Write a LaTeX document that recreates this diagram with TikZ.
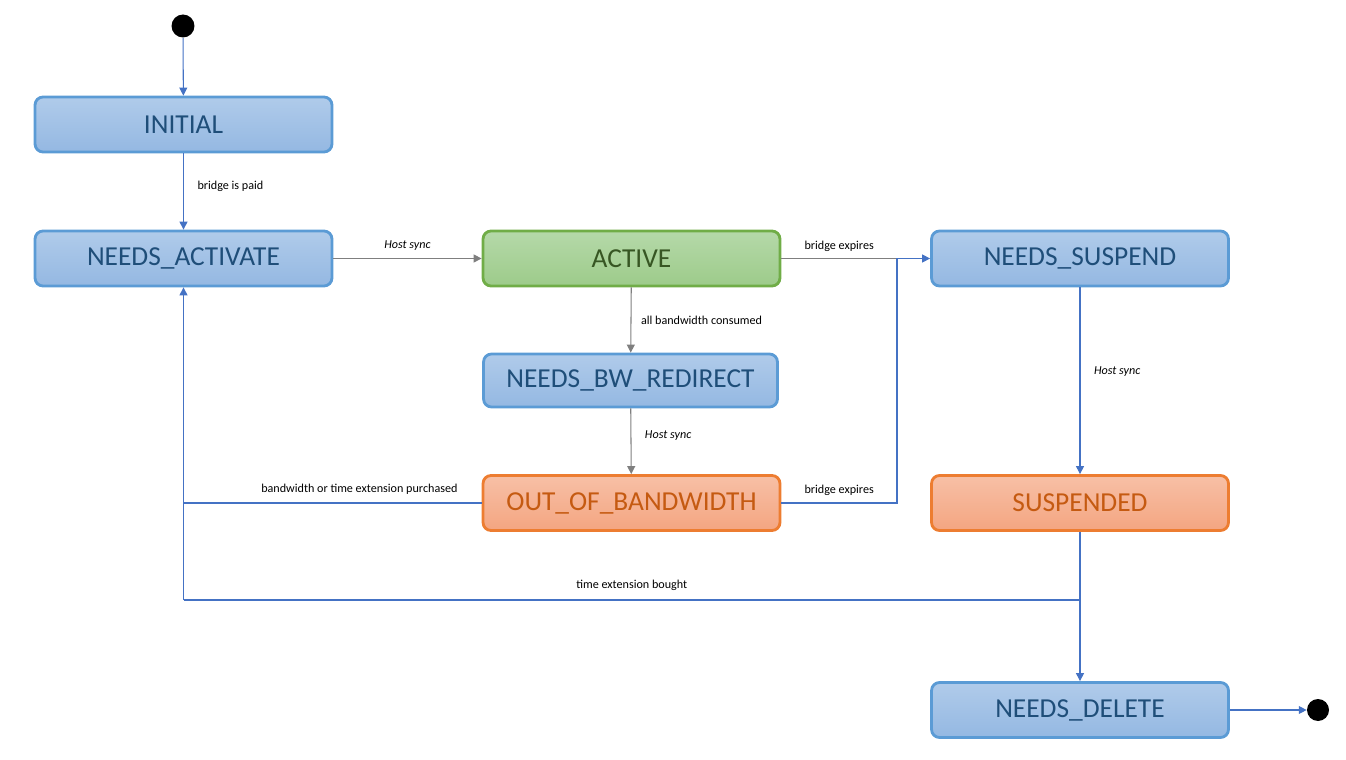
\documentclass[tikz,border=0pt]{standalone}
\usepackage{fontspec}
\setmainfont{Carlito}
\usetikzlibrary{arrows.meta}

\definecolor{blueedge}{HTML}{5B9BD5}
\definecolor{bluetop}{HTML}{B0CBEA}
\definecolor{bluebot}{HTML}{94B8E2}
\definecolor{bluetext}{HTML}{1F4E79}
\definecolor{greenedge}{HTML}{70AD47}
\definecolor{greentop}{HTML}{B5D9A9}
\definecolor{greenbot}{HTML}{9DCB8A}
\definecolor{greentext}{HTML}{375623}
\definecolor{orangeedge}{HTML}{ED7D31}
\definecolor{orangetop}{HTML}{F7C0A6}
\definecolor{orangebot}{HTML}{F4A581}
\definecolor{orangetext}{HTML}{C55A11}
\definecolor{blueline}{HTML}{4472C4}
\definecolor{grayline}{HTML}{7F7F7F}

\tikzset{
  statebox/.style={draw, rounded corners=0.16cm, line width=1.6pt,
    minimum width=5.94cm, minimum height=1.1cm,
    font=\fontsize{15.6}{19}\selectfont},
  bluestate/.style={statebox, draw=blueedge, top color=bluetop, bottom color=bluebot, text=bluetext},
  greenstate/.style={statebox, draw=greenedge, top color=greentop, bottom color=greenbot, text=greentext},
  orangestate/.style={statebox, draw=orangeedge, top color=orangetop, bottom color=orangebot, text=orangetext},
  dot/.style={circle, fill=black, inner sep=0pt, minimum size=0.46cm},
  blueflow/.style={draw=blueline, line width=0.6pt, -{Triangle[length=4.5pt,width=4.5pt]}},
  grayflow/.style={draw=grayline, line width=0.6pt, -{Triangle[length=4.5pt,width=4.5pt]}},
  edgelabel/.style={font=\fontsize{6.9}{8}\selectfont, text=black, inner sep=2pt},
}

\begin{document}
\begin{tikzpicture}[x=0.02cm, y=-0.02cm]

\useasboundingbox (0,0) rectangle (1346,760);

\node (S) at (183,26) [dot] {};
\node (I) at (183.5,124.5) [bluestate] {INITIAL};
\node (NA) at (183.5,258.5) [bluestate] {NEEDS\_ACTIVATE};
\node (AC) at (631.5,258.5) [greenstate] {ACTIVE};
\node (NS) at (1080,258.5) [bluestate] {NEEDS\_SUSPEND};
\node (BW) at (630.5,380.5) [bluestate, minimum width=5.88cm, minimum height=1.06cm] {NEEDS\_BW\_REDIRECT};
\node (OB) at (631.5,503) [orangestate] {OUT\_OF\_BANDWIDTH};
\node (SU) at (1080,503) [orangestate] {SUSPENDED};
\node (ND) at (1080,710) [bluestate] {NEEDS\_DELETE};
\node (E) at (1318,710) [dot, minimum size=0.44cm] {};

\coordinate (J1) at (897,258.5);
\coordinate (J2) at (1080,600);

\draw [blueflow] (S) -- (I);
\draw [blueflow] (I) -- node [edgelabel, right=0.2cm, pos=0.43] {bridge is paid} (NA);
\draw [grayflow] (NA) -- node [edgelabel, above=0.08cm] {\itshape Host sync} (AC);
\draw [grayflow] (AC) -- node [edgelabel, right=0.12cm] {all bandwidth consumed} (BW);
\draw [grayflow] (BW) -- node [edgelabel, right=0.2cm, pos=0.42] {\itshape Host sync} (OB);
\draw [draw=grayline, line width=0.6pt] (AC.east) -- node [edgelabel, above=0.06cm] {bridge expires} (J1);
\draw [blueflow] (OB.east) -- node [edgelabel, above=0.06cm] {bridge expires} (OB.east -| J1) -- (J1) -- (NS.west);
\draw [draw=blueline, line width=0.6pt] (OB.west) -- node [edgelabel, above=0.1cm, pos=0.41] {bandwidth or time extension purchased} (OB.west -| NA);
\draw [blueflow] (NS) -- node [edgelabel, right=0.2cm, pos=0.45] {\itshape Host sync} (SU);
\draw [blueflow] (SU) -- (ND);
\draw [draw=blueline, line width=0.6pt] (J2) -- node [edgelabel, above=0.1cm] {time extension bought} (J2 -| NA);
\draw [blueflow] (J2 -| NA) -- (NA);
\draw [blueflow] (ND) -- (E);

\end{tikzpicture}
\end{document}
